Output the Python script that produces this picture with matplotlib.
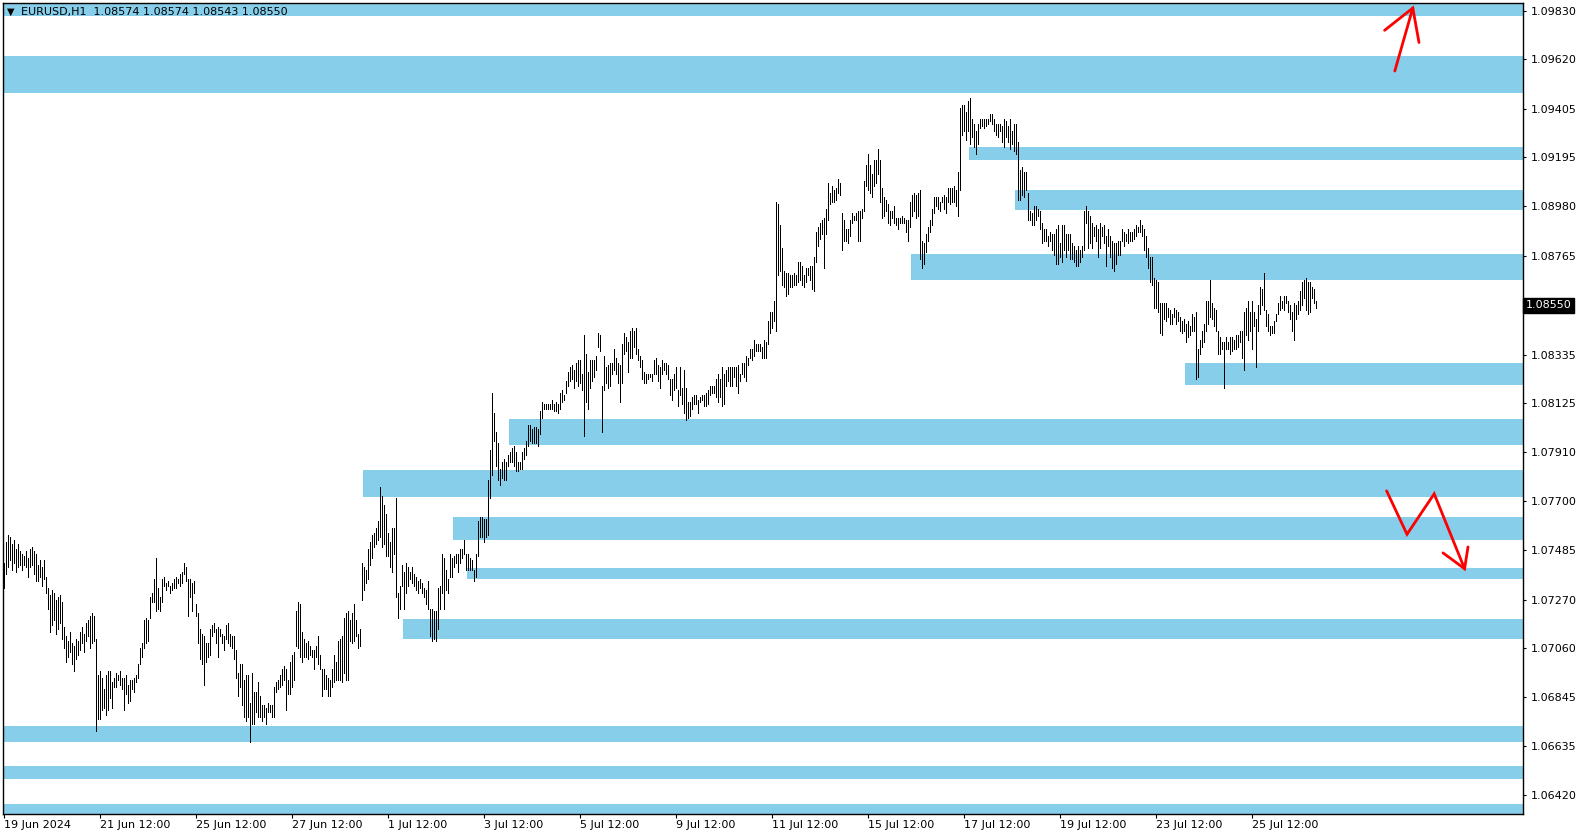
import matplotlib
matplotlib.use('Agg')
import matplotlib.pyplot as plt
from matplotlib.patches import Rectangle
from matplotlib.transforms import blended_transform_factory

# EURUSD H1 bars (high / low), one value per hourly bar starting 19 Jun 2024
highs = [
    1.0743, 1.0752, 1.0755, 1.0754, 1.0751, 1.0753, 1.0749, 1.0751, 1.0748, 1.0747,
    1.0746, 1.0748, 1.0745, 1.0749, 1.0750, 1.0748, 1.0747, 1.0742, 1.0744, 1.0741,
    1.0744, 1.0737, 1.0732, 1.0729, 1.0731, 1.0730, 1.0727, 1.0728, 1.0729, 1.0726,
    1.0715, 1.0711, 1.0709, 1.0713, 1.0708, 1.0707, 1.0710, 1.0709, 1.0713, 1.0715,
    1.0712, 1.0717, 1.0718, 1.0720, 1.0721, 1.0720, 1.0710, 1.0694, 1.0696, 1.0693,
    1.0688, 1.0694, 1.0696, 1.0696, 1.0691, 1.0693, 1.0695, 1.0694, 1.0696, 1.0693,
    1.0693, 1.0694, 1.0690, 1.0692, 1.0692, 1.0693, 1.0694, 1.0699, 1.0706, 1.0708,
    1.0718, 1.0719, 1.0718, 1.0728, 1.0730, 1.0736, 1.0745, 1.0732, 1.0728, 1.0736,
    1.0737, 1.0734, 1.0735, 1.0733, 1.0734, 1.0736, 1.0737, 1.0736, 1.0738, 1.0739,
    1.0743, 1.0741, 1.0736, 1.0736, 1.0734, 1.0735, 1.0725, 1.0721, 1.0714, 1.0712,
    1.0711, 1.0708, 1.0708, 1.0714, 1.0716, 1.0717, 1.0714, 1.0715, 1.0714, 1.0712,
    1.0711, 1.0716, 1.0717, 1.0712, 1.0711, 1.0711, 1.0705, 1.0695, 1.0699, 1.0699,
    1.0692, 1.0694, 1.0694, 1.0682, 1.0695, 1.0687, 1.0687, 1.0691, 1.0685, 1.0681,
    1.0681, 1.0680, 1.0682, 1.0681, 1.0681, 1.0689, 1.0691, 1.0692, 1.0694, 1.0697,
    1.0698, 1.0697, 1.0692, 1.0700, 1.0703, 1.0704, 1.0722, 1.0726, 1.0725, 1.0713,
    1.0710, 1.0708, 1.0709, 1.0707, 1.0705, 1.0705, 1.0707, 1.0711, 1.0703, 1.0697,
    1.0697, 1.0694, 1.0693, 1.0692, 1.0697, 1.0703, 1.0700, 1.0709, 1.0710, 1.0711,
    1.0719, 1.0721, 1.0722, 1.0718, 1.0721, 1.0725, 1.0718, 1.0712, 1.0714, 1.0743,
    1.0741, 1.0740, 1.0749, 1.0752, 1.0755, 1.0756, 1.0758, 1.0761, 1.0776, 1.0772,
    1.0768, 1.0764, 1.0756, 1.0752, 1.0758, 1.0758, 1.0771, 1.0730, 1.0733, 1.0742,
    1.0739, 1.0743, 1.0741, 1.0739, 1.0741, 1.0738, 1.0737, 1.0735, 1.0736, 1.0734,
    1.0732, 1.0731, 1.0735, 1.0723, 1.0723, 1.0722, 1.0722, 1.0732, 1.0733, 1.0747,
    1.0745, 1.0740, 1.0736, 1.0747, 1.0745, 1.0746, 1.0747, 1.0747, 1.0749, 1.0749,
    1.0753, 1.0747, 1.0747, 1.0745, 1.0744, 1.0740, 1.0747, 1.0761, 1.0763, 1.0763,
    1.0762, 1.0762, 1.0779, 1.0792, 1.0817, 1.0808, 1.0800, 1.0795, 1.0784, 1.0787,
    1.0788, 1.0787, 1.0790, 1.0791, 1.0793, 1.0794, 1.0791, 1.0787, 1.0787, 1.0791,
    1.0793, 1.0796, 1.0803, 1.0803, 1.0801, 1.0802, 1.0802, 1.0801, 1.0809, 1.0813,
    1.0812, 1.0812, 1.0812, 1.0812, 1.0814, 1.0812, 1.0813, 1.0812, 1.0817, 1.0818,
    1.0816, 1.0822, 1.0826, 1.0828, 1.0829, 1.0827, 1.0830, 1.0831, 1.0831, 1.0825,
    1.0842, 1.0834, 1.0826, 1.0831, 1.0831, 1.0831, 1.0833, 1.0843, 1.0842, 1.0820,
    1.0833, 1.0828, 1.0829, 1.0830, 1.0830, 1.0836, 1.0832, 1.0830, 1.0829, 1.0838,
    1.0843, 1.0841, 1.0839, 1.0844, 1.0845, 1.0844, 1.0845, 1.0836, 1.0833, 1.0831,
    1.0826, 1.0825, 1.0825, 1.0825, 1.0825, 1.0831, 1.0832, 1.0829, 1.0828, 1.0831,
    1.0830, 1.0830, 1.0829, 1.0823, 1.0823, 1.0825, 1.0828, 1.0818, 1.0828, 1.0819,
    1.0827, 1.0819, 1.0813, 1.0813, 1.0815, 1.0816, 1.0816, 1.0814, 1.0815, 1.0816,
    1.0816, 1.0817, 1.0818, 1.0820, 1.0820, 1.0820, 1.0823, 1.0825, 1.0823, 1.0828,
    1.0825, 1.0827, 1.0828, 1.0828, 1.0828, 1.0828, 1.0828, 1.0829, 1.0825, 1.0830,
    1.0830, 1.0833, 1.0832, 1.0836, 1.0836, 1.0840, 1.0838, 1.0838, 1.0838, 1.0837,
    1.0840, 1.0839, 1.0848, 1.0852, 1.0852, 1.0857, 1.0900, 1.0899, 1.0890, 1.0880,
    1.0870, 1.0869, 1.0869, 1.0868, 1.0868, 1.0869, 1.0868, 1.0874, 1.0874, 1.0872,
    1.0868, 1.0871, 1.0871, 1.0872, 1.0872, 1.0876, 1.0887, 1.0889, 1.0891, 1.0892,
    1.0893, 1.0897, 1.0908, 1.0904, 1.0907, 1.0905, 1.0906, 1.0910, 1.0908, 1.0895,
    1.0892, 1.0888, 1.0888, 1.0892, 1.0895, 1.0894, 1.0895, 1.0896, 1.0896, 1.0897,
    1.0909, 1.0916, 1.0921, 1.0916, 1.0912, 1.0918, 1.0918, 1.0923, 1.0918, 1.0906,
    1.0902, 1.0901, 1.0899, 1.0896, 1.0896, 1.0898, 1.0893, 1.0893, 1.0893, 1.0894,
    1.0893, 1.0892, 1.0892, 1.0900, 1.0903, 1.0904, 1.0903, 1.0904, 1.0905, 1.0883,
    1.0882, 1.0886, 1.0889, 1.0892, 1.0897, 1.0902, 1.0902, 1.0902, 1.0900, 1.0902,
    1.0903, 1.0902, 1.0906, 1.0906, 1.0906, 1.0907, 1.0905, 1.0913, 1.0941, 1.0942,
    1.0942, 1.0939, 1.0944, 1.0945, 1.0936, 1.0934, 1.0931, 1.0934, 1.0936, 1.0936,
    1.0936, 1.0936, 1.0936, 1.0938, 1.0938, 1.0936, 1.0934, 1.0934, 1.0934, 1.0933,
    1.0936, 1.0935, 1.0933, 1.0936, 1.0931, 1.0934, 1.0934, 1.0926, 1.0914, 1.0915,
    1.0913, 1.0913, 1.0904, 1.0896, 1.0895, 1.0898, 1.0898, 1.0897, 1.0896, 1.0891,
    1.0888, 1.0888, 1.0885, 1.0887, 1.0886, 1.0886, 1.0888, 1.0890, 1.0882, 1.0890,
    1.0890, 1.0886, 1.0886, 1.0886, 1.0882, 1.0881, 1.0879, 1.0881, 1.0879, 1.0881,
    1.0896, 1.0898, 1.0896, 1.0894, 1.0891, 1.0889, 1.0890, 1.0888, 1.0891, 1.0889,
    1.0890, 1.0885, 1.0888, 1.0885, 1.0883, 1.0882, 1.0882, 1.0883, 1.0883, 1.0888,
    1.0887, 1.0886, 1.0888, 1.0887, 1.0887, 1.0888, 1.0890, 1.0889, 1.0892, 1.0890,
    1.0888, 1.0885, 1.0880, 1.0876, 1.0876, 1.0867, 1.0866, 1.0865, 1.0856, 1.0856,
    1.0856, 1.0856, 1.0854, 1.0853, 1.0851, 1.0854, 1.0853, 1.0852, 1.0850, 1.0848,
    1.0849, 1.0847, 1.0848, 1.0846, 1.0851, 1.0850, 1.0852, 1.0836, 1.0840, 1.0844,
    1.0847, 1.0857, 1.0857, 1.0866, 1.0856, 1.0854, 1.0853, 1.0844, 1.0841, 1.0839,
    1.0839, 1.0841, 1.0839, 1.0841, 1.0841, 1.0840, 1.0842, 1.0842, 1.0844, 1.0844,
    1.0852, 1.0854, 1.0857, 1.0852, 1.0857, 1.0852, 1.0849, 1.0855, 1.0863, 1.0862,
    1.0869, 1.0853, 1.0851, 1.0846, 1.0846, 1.0848, 1.0851, 1.0856, 1.0859, 1.0857,
    1.0859, 1.0859, 1.0857, 1.0855, 1.0852, 1.0856, 1.0855, 1.0857, 1.0861, 1.0865,
    1.0866, 1.0867, 1.0865, 1.0865, 1.0863, 1.0862, 1.0857,
]
lows = [
    1.0732, 1.0738, 1.0741, 1.0744, 1.0740, 1.0743, 1.0739, 1.0741, 1.0742, 1.0740,
    1.0742, 1.0741, 1.0737, 1.0741, 1.0742, 1.0738, 1.0735, 1.0735, 1.0737, 1.0733,
    1.0736, 1.0730, 1.0723, 1.0713, 1.0716, 1.0718, 1.0712, 1.0714, 1.0717, 1.0710,
    1.0706, 1.0700, 1.0702, 1.0704, 1.0699, 1.0696, 1.0701, 1.0703, 1.0705, 1.0708,
    1.0704, 1.0709, 1.0711, 1.0706, 1.0708, 1.0709, 1.0670, 1.0675, 1.0675, 1.0679,
    1.0680, 1.0677, 1.0679, 1.0684, 1.0680, 1.0689, 1.0689, 1.0692, 1.0690, 1.0688,
    1.0679, 1.0686, 1.0682, 1.0683, 1.0688, 1.0687, 1.0691, 1.0693, 1.0699, 1.0702,
    1.0706, 1.0708, 1.0709, 1.0719, 1.0726, 1.0726, 1.0722, 1.0723, 1.0722, 1.0726,
    1.0733, 1.0731, 1.0733, 1.0730, 1.0731, 1.0732, 1.0732, 1.0734, 1.0733, 1.0734,
    1.0738, 1.0735, 1.0720, 1.0728, 1.0722, 1.0730, 1.0720, 1.0708, 1.0701, 1.0699,
    1.0690, 1.0700, 1.0702, 1.0703, 1.0711, 1.0713, 1.0708, 1.0702, 1.0711, 1.0708,
    1.0705, 1.0710, 1.0708, 1.0707, 1.0706, 1.0701, 1.0693, 1.0685, 1.0689, 1.0681,
    1.0676, 1.0674, 1.0676, 1.0665, 1.0673, 1.0673, 1.0678, 1.0676, 1.0676, 1.0674,
    1.0676, 1.0673, 1.0678, 1.0678, 1.0676, 1.0676, 1.0687, 1.0688, 1.0689, 1.0690,
    1.0692, 1.0679, 1.0686, 1.0686, 1.0689, 1.0692, 1.0707, 1.0706, 1.0702, 1.0700,
    1.0702, 1.0702, 1.0701, 1.0703, 1.0702, 1.0697, 1.0702, 1.0699, 1.0697, 1.0685,
    1.0688, 1.0688, 1.0685, 1.0685, 1.0689, 1.0691, 1.0692, 1.0692, 1.0692, 1.0691,
    1.0695, 1.0692, 1.0692, 1.0709, 1.0708, 1.0709, 1.0711, 1.0706, 1.0707, 1.0727,
    1.0731, 1.0734, 1.0736, 1.0742, 1.0745, 1.0750, 1.0751, 1.0753, 1.0754, 1.0750,
    1.0751, 1.0746, 1.0746, 1.0741, 1.0739, 1.0747, 1.0728, 1.0719, 1.0723, 1.0733,
    1.0723, 1.0730, 1.0733, 1.0736, 1.0734, 1.0733, 1.0731, 1.0730, 1.0732, 1.0730,
    1.0728, 1.0725, 1.0723, 1.0711, 1.0709, 1.0710, 1.0709, 1.0714, 1.0723, 1.0730,
    1.0723, 1.0731, 1.0730, 1.0737, 1.0737, 1.0741, 1.0743, 1.0739, 1.0743, 1.0745,
    1.0747, 1.0740, 1.0740, 1.0740, 1.0740, 1.0735, 1.0737, 1.0746, 1.0754, 1.0754,
    1.0752, 1.0754, 1.0755, 1.0771, 1.0781, 1.0796, 1.0785, 1.0779, 1.0777, 1.0780,
    1.0779, 1.0779, 1.0785, 1.0787, 1.0787, 1.0785, 1.0783, 1.0783, 1.0784, 1.0784,
    1.0788, 1.0790, 1.0794, 1.0796, 1.0795, 1.0795, 1.0795, 1.0794, 1.0799, 1.0806,
    1.0810, 1.0810, 1.0810, 1.0810, 1.0810, 1.0809, 1.0809, 1.0808, 1.0810, 1.0813,
    1.0814, 1.0817, 1.0820, 1.0822, 1.0823, 1.0819, 1.0822, 1.0820, 1.0821, 1.0818,
    1.0798, 1.0813, 1.0810, 1.0819, 1.0822, 1.0824, 1.0827, 1.0837, 1.0835, 1.0800,
    1.0818, 1.0821, 1.0819, 1.0820, 1.0825, 1.0827, 1.0825, 1.0821, 1.0813, 1.0821,
    1.0834, 1.0835, 1.0826, 1.0832, 1.0832, 1.0837, 1.0834, 1.0831, 1.0828, 1.0823,
    1.0821, 1.0821, 1.0823, 1.0824, 1.0822, 1.0825, 1.0825, 1.0822, 1.0819, 1.0825,
    1.0827, 1.0825, 1.0823, 1.0816, 1.0814, 1.0818, 1.0819, 1.0811, 1.0816, 1.0812,
    1.0808, 1.0805, 1.0806, 1.0807, 1.0810, 1.0812, 1.0812, 1.0808, 1.0813, 1.0814,
    1.0811, 1.0811, 1.0812, 1.0816, 1.0817, 1.0817, 1.0815, 1.0813, 1.0815, 1.0811,
    1.0812, 1.0820, 1.0822, 1.0820, 1.0820, 1.0824, 1.0820, 1.0817, 1.0822, 1.0825,
    1.0824, 1.0822, 1.0829, 1.0832, 1.0831, 1.0833, 1.0835, 1.0835, 1.0835, 1.0832,
    1.0832, 1.0832, 1.0838, 1.0843, 1.0845, 1.0848, 1.0844, 1.0868, 1.0870, 1.0864,
    1.0863, 1.0859, 1.0860, 1.0863, 1.0863, 1.0864, 1.0864, 1.0865, 1.0866, 1.0864,
    1.0863, 1.0865, 1.0868, 1.0866, 1.0862, 1.0861, 1.0874, 1.0881, 1.0884, 1.0886,
    1.0871, 1.0886, 1.0892, 1.0899, 1.0900, 1.0900, 1.0901, 1.0904, 1.0903, 1.0879,
    1.0883, 1.0883, 1.0882, 1.0885, 1.0891, 1.0892, 1.0892, 1.0883, 1.0883, 1.0893,
    1.0896, 1.0907, 1.0905, 1.0904, 1.0902, 1.0907, 1.0908, 1.0912, 1.0900, 1.0893,
    1.0894, 1.0896, 1.0891, 1.0890, 1.0893, 1.0891, 1.0890, 1.0888, 1.0891, 1.0891,
    1.0891, 1.0887, 1.0883, 1.0889, 1.0894, 1.0896, 1.0893, 1.0894, 1.0875, 1.0871,
    1.0873, 1.0878, 1.0883, 1.0887, 1.0890, 1.0895, 1.0898, 1.0897, 1.0896, 1.0900,
    1.0897, 1.0895, 1.0900, 1.0899, 1.0900, 1.0900, 1.0898, 1.0894, 1.0905, 1.0929,
    1.0931, 1.0927, 1.0931, 1.0925, 1.0928, 1.0924, 1.0921, 1.0925, 1.0932, 1.0933,
    1.0932, 1.0933, 1.0934, 1.0935, 1.0934, 1.0931, 1.0929, 1.0928, 1.0931, 1.0926,
    1.0924, 1.0928, 1.0926, 1.0923, 1.0925, 1.0922, 1.0921, 1.0901, 1.0901, 1.0903,
    1.0902, 1.0905, 1.0892, 1.0892, 1.0890, 1.0890, 1.0892, 1.0894, 1.0888, 1.0882,
    1.0883, 1.0883, 1.0881, 1.0883, 1.0879, 1.0877, 1.0873, 1.0873, 1.0876, 1.0874,
    1.0879, 1.0876, 1.0879, 1.0875, 1.0875, 1.0874, 1.0872, 1.0872, 1.0874, 1.0876,
    1.0879, 1.0891, 1.0880, 1.0882, 1.0880, 1.0885, 1.0883, 1.0876, 1.0880, 1.0885,
    1.0882, 1.0872, 1.0881, 1.0876, 1.0871, 1.0870, 1.0873, 1.0877, 1.0877, 1.0883,
    1.0881, 1.0883, 1.0882, 1.0883, 1.0883, 1.0884, 1.0885, 1.0887, 1.0887, 1.0885,
    1.0879, 1.0876, 1.0871, 1.0865, 1.0864, 1.0854, 1.0854, 1.0852, 1.0843, 1.0842,
    1.0849, 1.0848, 1.0850, 1.0847, 1.0847, 1.0850, 1.0847, 1.0848, 1.0844, 1.0843,
    1.0844, 1.0839, 1.0841, 1.0842, 1.0844, 1.0844, 1.0823, 1.0824, 1.0834, 1.0837,
    1.0839, 1.0844, 1.0847, 1.0850, 1.0849, 1.0846, 1.0844, 1.0834, 1.0834, 1.0836,
    1.0819, 1.0836, 1.0836, 1.0834, 1.0835, 1.0836, 1.0836, 1.0837, 1.0839, 1.0832,
    1.0827, 1.0842, 1.0840, 1.0844, 1.0836, 1.0846, 1.0828, 1.0844, 1.0851, 1.0855,
    1.0853, 1.0846, 1.0844, 1.0842, 1.0843, 1.0843, 1.0848, 1.0851, 1.0853, 1.0854,
    1.0853, 1.0856, 1.0852, 1.0849, 1.0844, 1.0840, 1.0849, 1.0851, 1.0853, 1.0855,
    1.0858, 1.0853, 1.0851, 1.0852, 1.0858, 1.0856, 1.0854,
]

last_price = 1.08550
title = "EURUSD,H1  1.08574 1.08574 1.08543 1.08550"

date_ticks = [0, 48, 96, 144, 192, 240, 288, 336, 384, 432, 480, 528, 576, 624]
date_labels = ["19 Jun 2024", "21 Jun 12:00", "25 Jun 12:00", "27 Jun 12:00",
               "1 Jul 12:00", "3 Jul 12:00", "5 Jul 12:00", "9 Jul 12:00",
               "11 Jul 12:00", "15 Jul 12:00", "17 Jul 12:00", "19 Jul 12:00",
               "23 Jul 12:00", "25 Jul 12:00"]
price_ticks = [1.09830, 1.09620, 1.09405, 1.09195, 1.08980, 1.08765, 1.08335,
               1.08125, 1.07910, 1.07700, 1.07485, 1.07270, 1.07060, 1.06845,
               1.06635, 1.06420]

# supply / demand zones: start bar, top price, bottom price
zone_from = [-1, -1, 482.5, 505.5, 453.5, 590.5, 252.5, 179.5, 224.5, 231.5,
             199.5, -1, -1, -1]
zone_top = [1.0995, 1.09634, 1.09240, 1.09051, 1.08775, 1.08297, 1.08055,
            1.07834, 1.07629, 1.07407, 1.07186, 1.06720, 1.06546, 1.06381]
zone_bottom = [1.09808, 1.09475, 1.09182, 1.08964, 1.08660, 1.08203, 1.07942,
               1.07716, 1.07529, 1.07359, 1.07099, 1.06650, 1.06490, 1.0625]

# hand drawn arrows (bar index, price)
arrow_up_x = [695.4, 704.4]
arrow_up_y = [1.09569, 1.09843]
arrow_up_head_x = [690.3, 704.4, 707.5]
arrow_up_head_y = [1.09746, 1.09843, 1.09693]
arrow_dn_x = [691.3, 701.5, 715.1, 730.3]
arrow_dn_y = [1.07743, 1.07554, 1.07730, 1.07404]
arrow_dn_head_x = [719.5, 730.3, 732.0]
arrow_dn_head_y = [1.07473, 1.07404, 1.07499]

n = min(len(highs), len(lows))
bar_x = list(range(n))

W, H = 1587, 838
fig = plt.figure(figsize=(W / 100, H / 100), dpi=100)
ax = fig.add_axes([3 / W, (H - 814) / H, 1520 / W, 811 / H])
ax.set_xlim(-0.5, 759.5)
ax.set_ylim(1.063373, 1.098648)

for x0, top, bot in zip(zone_from, zone_top, zone_bottom):
    ax.add_patch(Rectangle((x0, bot), 900, top - bot, facecolor='#87CEEB',
                           edgecolor='none', zorder=1))

# thin 1px bars, like the terminal draws them
ax.vlines(bar_x, lows[:n], highs[:n], color='black', lw=0.55,
          antialiased=False, zorder=3)

red = '#FF0000'
for xs, ys in [(arrow_up_x, arrow_up_y), (arrow_up_head_x, arrow_up_head_y),
               (arrow_dn_x, arrow_dn_y), (arrow_dn_head_x, arrow_dn_head_y)]:
    ax.plot(xs, ys, color=red, lw=2.0, solid_capstyle='round',
            solid_joinstyle='miter', zorder=4, clip_on=False)

fs = 8
ax.yaxis.tick_right()
ax.set_yticks(price_ticks)
ax.set_yticklabels([f"{p:.5f}" for p in price_ticks])
ax.tick_params(axis='y', direction='out', length=2.5, width=0.8, pad=3,
               labelsize=fs, colors='black')
ax.set_xticks(date_ticks)
ax.set_xticklabels(date_labels)
for lbl in ax.get_xticklabels():
    lbl.set_ha('left')
ax.tick_params(axis='x', direction='out', length=3, width=0.8, pad=1.5,
               labelsize=fs, colors='black')
for s in ax.spines.values():
    s.set_color('black')
    s.set_linewidth(1.0)

tr = blended_transform_factory(ax.transAxes, ax.transData)
ax.text(1.0017, last_price, f"{last_price:.5f}", transform=tr, fontsize=fs,
        color='white', va='center', ha='left', zorder=6,
        bbox=dict(boxstyle='square,pad=0.25', fc='black', ec='black'))

fig.text(7 / W, 1 - 12 / H, "\u25bc", fontsize=7, va='center', ha='left')
fig.text(21 / W, 1 - 12 / H, title, fontsize=fs, va='center', ha='left')

fig.savefig('out.png', dpi=100)
